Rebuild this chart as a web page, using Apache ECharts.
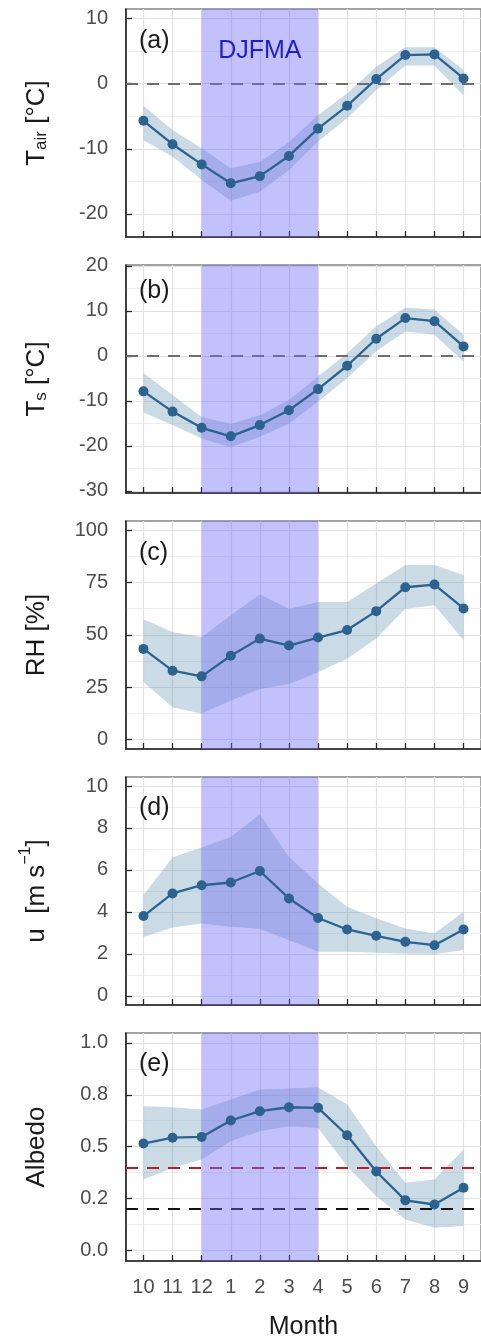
<!DOCTYPE html>
<html>
<head>
<meta charset="utf-8">
<script src="https://cdn.jsdelivr.net/npm/echarts@6/dist/echarts.min.js"></script>
<style>
  html, body { margin: 0; padding: 0; background: #ffffff; }
  #chart { width: 481px; height: 1341px; }
</style>
</head>
<body>
<div id="chart"></div>
<script>
// Month order of the hydrological year (October to September)
const months = ['10', '11', '12', '1', '2', '3', '4', '5', '6', '7', '8', '9'];
const seasonStart = '12';
const seasonEnd = '4';
const seasonLabel = 'DJFMA';

// (a) air temperature [°C]: monthly mean and spread band
const tairMean = [-5.7, -9.3, -12.4, -15.3, -14.2, -11.1, -6.9, -3.4, 0.7, 4.4, 4.5, 0.8];
const tairLow  = [-8.7, -11.2, -14.8, -18.0, -16.6, -13.3, -8.9, -5.3, -1.0, 2.8, 2.8, -1.8];
const tairHigh = [-3.4, -7.1, -9.9, -13.0, -12.0, -9.0, -4.8, -1.5, 2.6, 5.6, 5.6, 2.1];

// (b) surface temperature [°C]
const tsMean = [-7.9, -12.4, -16.0, -17.9, -15.4, -12.1, -7.4, -2.2, 3.8, 8.4, 7.7, 2.1];
const tsLow  = [-12.6, -15.4, -18.4, -20.3, -18.0, -15.1, -10.2, -5.0, 1.0, 5.4, 4.7, -1.3];
const tsHigh = [-3.8, -8.7, -13.6, -15.1, -13.2, -9.8, -4.6, 0.6, 6.6, 10.7, 10.3, 4.7];

// (c) relative humidity [%]
const rhMean = [43.3, 32.9, 30.2, 40.0, 48.2, 44.9, 48.7, 52.3, 61.3, 72.7, 74.0, 62.6];
const rhLow  = [27.5, 15.5, 12.4, 18.7, 24.2, 26.6, 32.2, 38.6, 48.2, 62.5, 64.1, 47.4];
const rhHigh = [57.4, 51.3, 49.0, 59.3, 69.2, 62.5, 65.7, 65.7, 74.5, 83.3, 83.3, 78.5];

// (d) wind speed [m s-1]
const uMean = [3.80, 4.88, 5.27, 5.40, 5.95, 4.64, 3.71, 3.16, 2.86, 2.57, 2.41, 3.16];
const uLow  = [2.80, 3.26, 3.45, 3.29, 3.20, 2.65, 2.10, 2.10, 2.05, 2.00, 1.98, 2.18];
const uHigh = [4.80, 6.60, 7.07, 7.57, 8.65, 6.62, 5.35, 4.24, 3.69, 3.21, 2.97, 4.00];

// (e) albedo
const albedoMean = [0.515, 0.543, 0.547, 0.626, 0.671, 0.690, 0.687, 0.555, 0.380, 0.241, 0.221, 0.302];
const albedoLow  = [0.342, 0.398, 0.438, 0.526, 0.574, 0.598, 0.590, 0.406, 0.261, 0.149, 0.109, 0.117];
const albedoHigh = [0.695, 0.690, 0.679, 0.727, 0.775, 0.780, 0.786, 0.703, 0.502, 0.326, 0.342, 0.486];

// Tick values and labels of the y axes
const tairTicks = [-20, -10, 0, 10];
const tsTicks = [-30, -20, -10, 0, 10, 20];
const rhTicks = [0, 25, 50, 75, 100];
const uTicks = [0, 2, 4, 6, 8, 10];
const albedoTicks = [0, 0.25, 0.5, 0.75, 1];
const albedoTickLabels = ['0.0', '0.2', '0.5', '0.8', '1.0'];

// Horizontal reference lines
const zeroRef = [0];
const albedoRefs = [0.4, 0.2];

const panelTags = ['(a)', '(b)', '(c)', '(d)', '(e)'];

// ---- styling ----
const FONT = '"Liberation Sans", Arial, Helvetica, sans-serif';
const LINE = '#2b6290';
const RIBBON = 'rgba(93,145,178,0.33)';
const SHADE = 'rgba(112,108,245,0.42)';
const AXIS = '#262626';
const TICKTEXT = '#4d4d4d';
const GRIDMAJOR = '#e2e2e2';
const GRIDMINOR = '#efefef';

const panelTops = [9, 265, 521, 777, 1033];
const panelHeight = 228;
const tagCenters = [41, 291, 553, 808, 1064];

const panels = [
  { mean: tairMean, low: tairLow, high: tairHigh, min: -23.55, max: 11.47, step: 10,
    ticks: tairTicks, tickText: null, refs: zeroRef, refColors: ['#6e6e6e'],
    name: '{t|T}{s|air}{t| [°C]}' },
  { mean: tsMean, low: tsLow, high: tsHigh, min: -30.5, max: 20.2, step: 10,
    ticks: tsTicks, tickText: null, refs: zeroRef, refColors: ['#6e6e6e'],
    name: '{t|T}{s|s}{t| [°C]}' },
  { mean: rhMean, low: rhLow, high: rhHigh, min: -4.45, max: 104.3, step: 25,
    ticks: rhTicks, tickText: null, refs: [], refColors: [],
    name: '{t|RH [%]}' },
  { mean: uMean, low: uLow, high: uHigh, min: -0.44, max: 10.43, step: 2,
    ticks: uTicks, tickText: null, refs: [], refColors: [],
    name: '{t|u  [m s}{p|−1}{t|]}' },
  { mean: albedoMean, low: albedoLow, high: albedoHigh, min: -0.0515, max: 1.048, step: 0.25,
    ticks: albedoTicks, tickText: albedoTickLabels, refs: albedoRefs, refColors: ['#b3202a', '#111111'],
    name: '{t|Albedo}' }
];

const xs = months.map((m, i) => i + 1);
const xStart = months.indexOf(seasonStart) + 1;
const xEnd = months.indexOf(seasonEnd) + 1;

// Spread band drawn as one polygon through the axis scales
function ribbonRender(params, api) {
  if (params.dataIndexInside !== 0) return null;
  const n = params.dataInsideLength;
  const upper = [], lower = [];
  for (let j = 0; j < n; j++) {
    upper.push(api.coord([api.value(0, j), api.value(2, j)]));
    lower.push(api.coord([api.value(0, j), api.value(1, j)]));
  }
  return {
    type: 'polygon',
    shape: { points: upper.concat(lower.reverse()) },
    style: { fill: RIBBON }
  };
}

function tickFormatter(p) {
  return function (v) {
    const k = p.ticks.findIndex(t => Math.abs(t - v) < 1e-9);
    if (k < 0) return '';
    return p.tickText ? p.tickText[k] : String(p.ticks[k]);
  };
}

const grids = [], xAxes = [], yAxes = [], series = [], graphics = [];
const last = panels.length - 1;

panels.forEach((p, i) => {
  grids.push({
    left: 126, right: -5, top: panelTops[i], height: panelHeight,
    show: true, borderColor: '#858585', borderWidth: 1.4, backgroundColor: '#ffffff'
  });

  xAxes.push({
    type: 'value', gridIndex: i, min: 0.4, max: 12.6, minInterval: 1, maxInterval: 1,
    axisLine: { show: true, onZero: false, lineStyle: { color: AXIS, width: 1.6 } },
    axisTick: { show: true, inside: true, length: 6, customValues: xs, lineStyle: { color: AXIS, width: 1.3 } },
    axisLabel: {
      show: i === last, customValues: xs, margin: 16,
      formatter: v => months[Math.round(v) - 1] || '',
      color: TICKTEXT, fontSize: 20, fontFamily: FONT
    },
    splitLine: { show: true, lineStyle: { color: GRIDMAJOR, width: 1.2 } },
    name: i === last ? 'Month' : '', nameLocation: 'middle', nameGap: 54,
    nameTextStyle: { color: '#1a1a1a', fontSize: 25, fontFamily: FONT }
  });

  yAxes.push({
    type: 'value', gridIndex: i, min: p.min, max: p.max,
    minInterval: p.step, maxInterval: p.step,
    axisLine: { show: true, onZero: false, lineStyle: { color: AXIS, width: 1.6 } },
    axisTick: { show: true, inside: true, length: 6, customValues: p.ticks, lineStyle: { color: AXIS, width: 1.3 } },
    axisLabel: {
      customValues: p.ticks, margin: 18, formatter: tickFormatter(p),
      color: TICKTEXT, fontSize: 20, fontFamily: FONT
    },
    splitLine: { show: true, lineStyle: { color: GRIDMAJOR, width: 1.2 } },
    minorTick: { show: false, splitNumber: 2 },
    minorSplitLine: { show: true, lineStyle: { color: GRIDMINOR, width: 1 } },
    name: p.name, nameLocation: 'middle', nameRotate: 90, nameGap: 76,
    nameTextStyle: {
      color: '#1a1a1a', fontFamily: FONT,
      rich: {
        t: { fontSize: 26, lineHeight: 32, verticalAlign: 'bottom', color: '#1a1a1a', fontFamily: FONT },
        s: { fontSize: 17, lineHeight: 17, verticalAlign: 'bottom', color: '#1a1a1a', fontFamily: FONT },
        p: { fontSize: 16, lineHeight: 16, verticalAlign: 'top', color: '#1a1a1a', fontFamily: FONT }
      }
    }
  });

  series.push({
    type: 'custom', xAxisIndex: i, yAxisIndex: i, z: 1, silent: true,
    data: xs.map((x, j) => [x, p.low[j], p.high[j]]),
    encode: { x: 0, y: [1, 2] },
    renderItem: ribbonRender
  });

  series.push({
    type: 'line', xAxisIndex: i, yAxisIndex: i, z: 4,
    data: xs.map((x, j) => [x, p.mean[j]]),
    symbol: 'circle', symbolSize: 10, showSymbol: true,
    itemStyle: { color: LINE },
    lineStyle: { color: LINE, width: 2.3 },
    markLine: {
      silent: true, z: 2, symbol: ['none', 'none'], label: { show: false },
      data: p.refs.map((v, k) => ({
        yAxis: v,
        lineStyle: { color: p.refColors[k], type: [12, 9], width: 2 }
      }))
    },
    markArea: {
      silent: true, z: 3,
      itemStyle: { color: SHADE },
      label: i === 0
        ? { show: true, position: 'insideTop', distance: 30, color: '#1e1ecf', fontSize: 25, fontFamily: FONT }
        : { show: false },
      data: [[{ name: i === 0 ? seasonLabel : '', xAxis: xStart }, { xAxis: xEnd }]]
    }
  });

  graphics.push({
    type: 'text', x: 139, y: tagCenters[i], z: 10,
    style: { text: panelTags[i], font: '25px ' + FONT, fill: '#1a1a1a', verticalAlign: 'middle' }
  });
});

const chart = echarts.init(document.getElementById('chart'), null, { renderer: 'canvas' });
chart.setOption({
  animation: false,
  backgroundColor: '#ffffff',
  grid: grids,
  xAxis: xAxes,
  yAxis: yAxes,
  series: series,
  graphic: graphics
});
</script>
</body>
</html>
